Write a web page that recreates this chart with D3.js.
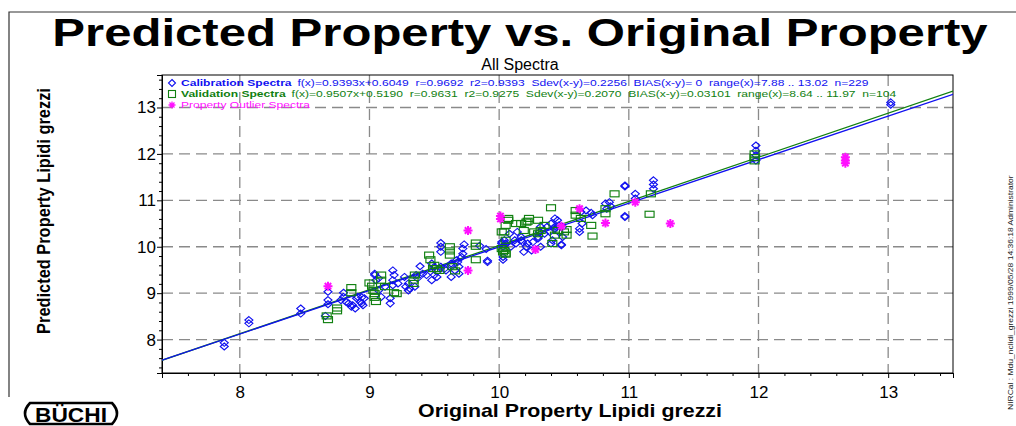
<!DOCTYPE html>
<html><head><meta charset="utf-8">
<script src="https://cdn.jsdelivr.net/npm/d3@7"></script>
<style>body{margin:0;background:#fff}svg{display:block}text{font-family:"Liberation Sans",Arial,sans-serif}</style>
</head><body><svg id="c" width="1016" height="426"></svg>
<script>
const xTicks = [8, 9, 10, 11, 12, 13];
const yTicks = [8, 9, 10, 11, 12, 13];
const calibration = [
[7.88,7.93],[7.88,7.85],[8.07,8.42],[8.07,8.35],[8.47,8.67],[8.47,8.56],
[8.68,9.03],[8.68,8.85],[8.68,8.76],[8.66,8.51],[8.80,8.92],[8.80,9.01],
[8.84,8.78],[8.87,8.74],[8.89,8.67],[8.93,8.81],[8.94,8.91],[8.91,8.92],[8.95,8.74],[8.86,8.71],[8.90,8.89],[8.96,8.89],[8.94,8.78],[8.78,8.85],[8.82,8.81],
[9.04,9.42],[9.07,9.32],[9.04,9.39],[9.05,9.28],[9.07,9.06],[9.09,8.92],[9.12,9.14],[9.16,8.89],[9.16,8.78],
[9.18,9.49],[9.19,9.39],[9.18,9.28],[9.18,9.17],[9.22,9.21],[9.28,9.14],[9.30,9.06],
[9.27,9.35],[9.30,9.21],[9.31,9.10],[9.35,9.14],[9.39,9.58],[9.41,9.42],[9.44,9.39],[9.36,9.39],[9.37,9.32],
[9.48,9.64],[9.52,9.46],[9.52,9.35],[9.55,9.57],[9.59,9.49],[9.50,9.57],[9.58,9.53],[9.50,9.39],[9.48,9.28],
[9.55,10.08],[9.55,10.00],[9.55,9.89],
[9.63,9.64],[9.67,9.71],[9.69,9.57],[9.71,9.78],[9.72,9.96],[9.72,9.85],[9.73,10.05],[9.68,9.67],[9.63,9.60],[9.66,9.49],[9.69,9.42],[9.63,9.35],
[9.85,10.02],[9.90,9.95],[9.91,9.67],[9.91,9.70],
[10.03,9.78],[10.03,9.72],[10.02,10.07],[10.04,10.14],[10.02,10.10],[10.03,10.00],[10.08,10.28],[10.12,10.14],[10.14,10.32],[10.17,10.21],
[10.21,10.00],[10.18,10.10],[10.30,10.21],[10.31,10.32],[10.32,10.43],
[10.05,10.07],[10.09,10.00],[10.13,10.07],[10.17,10.14],[10.22,10.07],[10.26,10.10],[10.30,10.18],[10.35,10.28],[10.39,10.32],[10.43,10.39],[10.46,10.32],[10.49,10.21],[10.41,10.14],[10.40,10.07],[10.32,10.00],[10.25,9.92],[10.19,9.89],
[10.43,10.61],[10.45,10.57],[10.46,10.46],[10.49,10.43],[10.43,10.43],[10.40,10.50],[10.37,10.43],[10.48,10.05],[10.48,10.03],
[10.63,10.75],[10.67,10.78],[10.71,10.73],[10.72,10.68],[10.64,10.50],[10.62,10.39],[10.62,10.32],
[10.82,10.93],[10.85,10.96],[10.86,10.87],[10.83,10.82],
[10.97,11.32],[10.97,11.30],[10.97,10.66],[10.97,10.64],
[11.19,11.43],[11.19,11.34],[11.19,11.25],[11.05,11.14],[11.05,11.04],
[11.98,12.18],[11.98,12.07],[11.98,11.97],[11.98,11.86],
[13.02,13.11],[13.02,13.06]
];
const validation = [
[8.67,8.51],[8.68,8.43],[8.75,8.68],[8.75,8.62],[8.86,9.12],[8.86,9.01],
[9.00,9.22],[9.02,9.15],[9.03,9.06],[9.04,8.99],[9.04,8.91],[9.05,8.82],
[9.09,9.39],[9.09,9.28],[9.12,9.14],[9.19,9.01],[9.21,8.99],
[9.34,9.28],[9.35,9.39],[9.34,9.21],
[9.46,9.82],[9.47,9.72],[9.50,9.60],[9.52,9.53],[9.54,9.49],[9.49,9.53],
[9.62,10.00],[9.62,9.91],[9.62,9.82],[9.64,9.57],[9.66,9.48],
[9.82,10.08],[9.82,10.01],[9.82,9.72],
[10.02,9.96],[10.03,9.89],[10.05,9.84],
[10.07,10.57],[10.05,10.46],[10.02,10.32],
[10.22,10.55],[10.23,10.61],[10.17,10.50],[10.19,10.35],[10.30,10.57],[10.40,10.84],
[10.21,10.53],[10.07,10.61],[10.04,10.32],[10.05,10.14],[10.04,9.92],[10.05,9.86],[10.13,10.50],
[10.35,10.46],[10.32,10.35],[10.45,10.35],[10.52,10.37],[10.27,10.32],[10.30,10.28],
[10.50,10.32],[10.52,10.25],[10.43,10.25],[10.41,10.07],
[10.59,10.78],[10.59,10.68],[10.63,10.61],[10.71,10.46],[10.72,10.23],
[10.82,10.82],[10.82,10.71],[10.89,11.14],[11.16,10.70],[11.17,11.14],
[11.97,12.00],[11.97,11.92],[11.97,11.85]
];
const outliers = [
[8.68,9.15],[9.76,10.35],[9.76,9.49],[10.01,10.66],[10.01,10.60],[10.28,9.94],[10.62,10.82],[10.48,10.44],
[10.82,10.51],[11.05,10.96],[11.32,10.50],[12.67,11.93],[12.67,11.86],[12.67,11.80]
];
const calFit = {slope: 0.9393, intercept: 0.6049};
const valFit = {slope: 0.9507, intercept: 0.5190};
const legendLabels = ["Calibration Spectra", "Validation Spectra", "Property Outlier Spectra"];
const legendStats = [
"f(x)=0.9393x+0.6049  r=0.9692  r2=0.9393  Sdev(x-y)=0.2256  BIAS(x-y)= 0  range(x)=7.88 .. 13.02  n=229",
"f(x)=0.9507x+0.5190  r=0.9631  r2=0.9275  Sdev(x-y)=0.2070  BIAS(x-y)=0.03101  range(x)=8.64 .. 11.97  n=104",
""
];

const BLUE = "#1010f0", GREEN = "#108010", MAG = "#ff10ff";
const svg = d3.select("#c");
const L = 162, R = 953, T = 75, B = 373;
const x = d3.scaleLinear().domain([7.4, 13.5]).range([L, R]);
const y = d3.scaleLinear().domain([7.28, 13.7]).range([B, T]);

function fit(sel, target, ax) {
  const w = sel.node().getBBox().width;
  sel.attr("transform", `translate(${ax},0) scale(${target / w},1) translate(${-ax},0)`);
}

// frame
svg.append("path").attr("d", "M9,397 L9,12 L1016,12").attr("fill", "none").attr("stroke", "#333").attr("stroke-width", 1.2);

// title
const t = svg.append("text").attr("x", 520).attr("y", 46).attr("text-anchor", "middle")
  .attr("font-size", 39).attr("font-weight", "bold").text("Predicted Property vs. Original Property");
fit(t, 936, 520);
svg.append("text").attr("x", 520).attr("y", 70).attr("text-anchor", "middle").attr("font-size", 16).text("All Spectra");

// grid
const grid = svg.append("g").attr("stroke", "#8a8a8a").attr("stroke-width", 1.3).attr("stroke-dasharray", "11,6");
grid.selectAll(".gx").data(xTicks).join("line").attr("x1", d => x(d)).attr("x2", d => x(d)).attr("y1", T).attr("y2", B);
grid.selectAll(".gy").data(yTicks).join("line").attr("y1", d => y(d)).attr("y2", d => y(d)).attr("x1", L).attr("x2", R);

// border
svg.append("rect").attr("x", L).attr("y", T).attr("width", R - L).attr("height", B - T).attr("fill", "none").attr("stroke", "#000").attr("stroke-width", 1);

// axes
const minorX = d3.range(7.4, 13.41, 0.2).filter(v => Math.abs(v - Math.round(v)) > 0.01);
const minorY = d3.range(7.4, 13.61, 0.2).filter(v => Math.abs(v - Math.round(v)) > 0.01);
svg.append("g").attr("transform", `translate(0,${B})`)
  .call(d3.axisBottom(x).tickValues(xTicks).tickSize(5).tickPadding(8).tickFormat(d3.format("d")));
svg.append("g").attr("transform", `translate(0,${B})`).call(d3.axisBottom(x).tickValues(minorX).tickSize(3).tickFormat(""));
svg.append("g").attr("transform", `translate(${L},0)`)
  .call(d3.axisLeft(y).tickValues(yTicks).tickSize(5).tickPadding(1).tickFormat(d3.format("d")));
svg.append("g").attr("transform", `translate(${L},0)`).call(d3.axisLeft(y).tickValues(minorY).tickSize(3).tickFormat(""));
svg.selectAll(".domain").attr("stroke", "#000");
svg.selectAll(".tick line").attr("stroke", "#000");
svg.selectAll(".tick text").attr("font-size", 17).attr("font-family", "Liberation Sans, Arial").attr("fill", "#000");

// axis titles
const xt = svg.append("text").attr("x", 570).attr("y", 417).attr("text-anchor", "middle").attr("font-size", 18).attr("font-weight", "bold").text("Original Property Lipidi grezzi");
fit(xt, 304, 570);
const yg = svg.append("g").attr("transform", "translate(50,211) rotate(-90)");
const yt = yg.append("text").attr("x", 0).attr("y", 0).attr("text-anchor", "middle").attr("font-size", 18).attr("font-weight", "bold").text("Predicted Property Lipidi grezzi");
fit(yt, 246, 0);

// clip
svg.append("clipPath").attr("id", "clip").append("rect").attr("x", L).attr("y", T).attr("width", R - L).attr("height", B - T);
const plot = svg.append("g").attr("clip-path", "url(#clip)");

// regression lines
[[valFit, GREEN], [calFit, BLUE]].forEach(([f, c]) => {
  const xs = x.domain();
  plot.append("line").attr("x1", x(xs[0])).attr("y1", y(f.slope * xs[0] + f.intercept))
    .attr("x2", x(xs[1])).attr("y2", y(f.slope * xs[1] + f.intercept)).attr("stroke", c).attr("stroke-width", 1.3);
});

const diamond = "M0,-3.5 L4,0 L0,3.5 L-4,0 Z";
const star = "M0,-4.5 L0,4.5 M-4.5,0 L4.5,0 M-3.2,-3.2 L3.2,3.2 M-3.2,3.2 L3.2,-3.2";
plot.selectAll(".cal").data(calibration).join("path").attr("d", diamond)
  .attr("transform", d => `translate(${x(d[0])},${y(d[1])})`).attr("fill", "none").attr("stroke", BLUE).attr("stroke-width", 1.15);
plot.selectAll(".val").data(validation).join("rect").attr("x", d => x(d[0]) - 4.5).attr("y", d => y(d[1]) - 3)
  .attr("width", 9).attr("height", 6).attr("fill", "none").attr("stroke", GREEN).attr("stroke-width", 1.15);
plot.selectAll(".out").data(outliers).join("path").attr("d", star)
  .attr("transform", d => `translate(${x(d[0])},${y(d[1])})`).attr("fill", "none").attr("stroke", MAG).attr("stroke-width", 2);

// legend
const lg = svg.append("g");
const rows = [{c: BLUE, y: 86}, {c: GREEN, y: 97}, {c: MAG, y: 108}];
lg.append("path").attr("d", "M0,-3.5 L3.5,0 L0,3.5 L-3.5,0 Z").attr("transform", "translate(172,83)").attr("fill", "none").attr("stroke", BLUE).attr("stroke-width", 1.1);
lg.append("rect").attr("x", 168.5).attr("y", 90.5).attr("width", 7).attr("height", 7).attr("fill", "none").attr("stroke", GREEN).attr("stroke-width", 1.1);
lg.append("path").attr("d", "M0,-3.5 L0,3.5 M-3.5,0 L3.5,0 M-2.5,-2.5 L2.5,2.5 M-2.5,2.5 L2.5,-2.5").attr("transform", "translate(172,105)").attr("fill", "none").attr("stroke", MAG).attr("stroke-width", 1.3);
const widths = [688, 716, 130];
rows.forEach((r, i) => {
  const g = lg.append("g");
  const a = g.append("text").attr("x", 181).attr("y", r.y).attr("font-size", 9.6).attr("fill", r.c)
    .attr("font-weight", i < 2 ? "bold" : "normal").text(legendLabels[i]);
  if (legendStats[i]) {
    const wa = a.node().getBBox().width;
    g.append("text").attr("x", 181 + wa + 4).attr("y", r.y).attr("font-size", 9.6).attr("fill", r.c)
      .style("white-space", "pre").text(legendStats[i]);
  }
  fit(g, widths[i], 181);
});

// side note
const sg = svg.append("g").attr("transform", "translate(1013,410) rotate(-90)");
const st = sg.append("text").attr("x", 0).attr("y", 0).attr("font-size", 8).attr("fill", "#222")
  .text("NIRCal : Mdu_nclidi_grezzi 1999/05/28 14:36:18 Administrator");
fit(st, 235, 0);

// BUCHI logo
const logo = svg.append("g");
logo.append("path").attr("d", "M30,403 L112,403 Q122,413.5 112,424 L30,424 Q20,413.5 30,403 Z").attr("fill", "none").attr("stroke", "#000").attr("stroke-width", 2.6);
const lt = logo.append("text").attr("x", 71).attr("y", 422).attr("text-anchor", "middle").attr("font-size", 21).attr("font-weight", "bold").attr("font-family", "DejaVu Sans").text("BÜCHI");
fit(lt, 72, 71);
</script></body></html>
